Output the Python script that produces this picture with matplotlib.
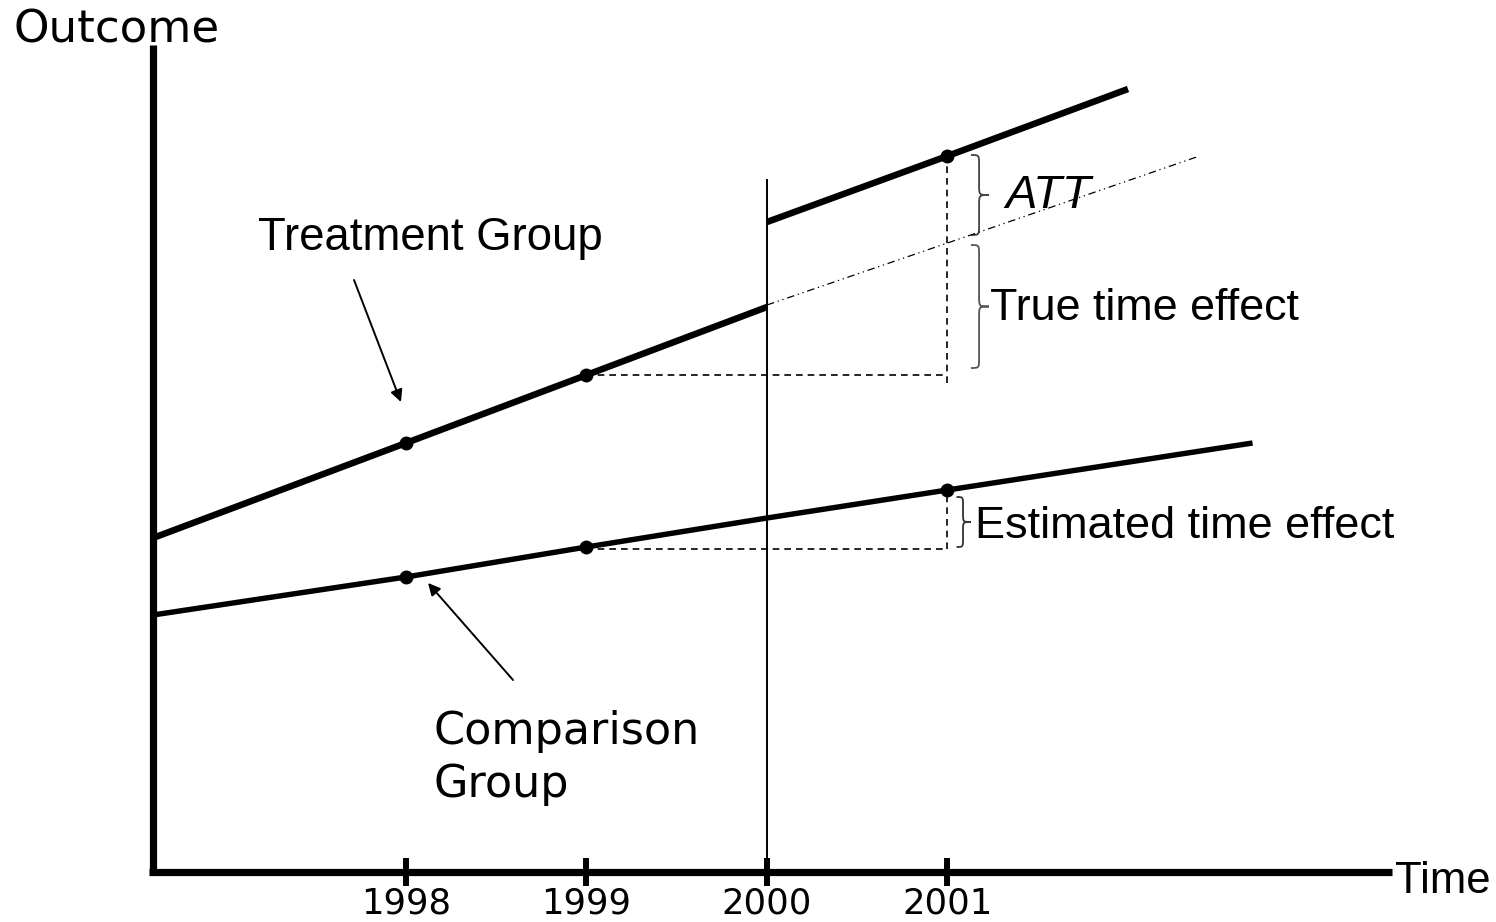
import matplotlib
matplotlib.use("Agg")
import matplotlib.pyplot as plt
from matplotlib.path import Path
from matplotlib.patches import PathPatch

# ---------------- data ----------------
years_ticks = [1998, 1999, 2000, 2001]
tick_labels = ["1998", "1999", "2000", "2001"]

axis_start = 1996.598          # where the y-axis sits (time)
treat_pre_x = [axis_start, 1998, 1999, 2000]
treat_pre_y = [33.4, 42.9, 49.7, 56.5]
treat_post_x = [2000, 2001, 2002]
treat_post_y = [65.0, 71.6, 78.3]
counterfactual_x = [2000, 2001, 2002.38]
counterfactual_y = [56.7, 62.9, 71.5]
comp_x = [axis_start, 1998, 1999, 2000, 2001, 2002.69]
comp_y = [25.7, 29.5, 32.5, 35.4, 38.2, 42.9]

treat_dot_x = [1998, 1999, 2001]
treat_dot_y = [42.9, 49.7, 71.6]
comp_dot_x = [1998, 1999, 2001]
comp_dot_y = [29.5, 32.5, 38.2]

# ---------------- figure ----------------
fig = plt.figure(figsize=(14.96, 9.22), dpi=100)
ax = fig.add_axes([0, 0, 1, 1])
ax.set_xlim(1995.7507, 2004.0388)
ax.set_ylim(-5.0, 87.2)
ax.patch.set_alpha(0)

# axes as spines
for s in ["top", "right"]:
    ax.spines[s].set_visible(False)
ax.spines["left"].set_position(("data", axis_start))
ax.spines["bottom"].set_position(("data", 0))
ax.spines["left"].set_linewidth(5.2)
ax.spines["bottom"].set_linewidth(5.2)
ax.spines["left"].set_bounds(-0.2, 82.7)
ax.spines["bottom"].set_bounds(axis_start - 0.02, 2003.46)
ax.spines["left"].set_capstyle("butt")
ax.spines["bottom"].set_capstyle("butt")
ax.set_yticks([])
ax.set_xticks(years_ticks)
ax.set_xticklabels(tick_labels, fontsize=25.5, family="DejaVu Sans")
ax.tick_params(axis="x", direction="inout", length=20, width=4.3, pad=0.5)

# vertical line at 2000
ax.plot([2000, 2000], [0, 69.2], color="black", lw=1.4)

# treatment group
ax.plot(treat_pre_x, treat_pre_y, color="black", lw=4.7, solid_capstyle="butt")
ax.plot(treat_post_x, treat_post_y, color="black", lw=4.7, solid_capstyle="butt")
ax.plot(counterfactual_x, counterfactual_y, color="black", lw=0.9,
        dashes=(6, 3, 1, 3, 1, 3))
ax.plot(treat_dot_x, treat_dot_y, "o", color="black", ms=9)

# comparison group
ax.plot(comp_x, comp_y, color="black", lw=3.9, solid_capstyle="butt")
ax.plot(comp_dot_x, comp_dot_y, "o", color="black", ms=9)

# dashed guides
ax.plot([1999, 2001], [treat_pre_y[2], treat_pre_y[2]], color="black", lw=1.2, dashes=(4, 3))
ax.plot([2001, 2001], [48.9, treat_post_y[1]], color="black", lw=1.2, dashes=(4, 3))
ax.plot([1999, 2001], [32.3, 32.3], color="black", lw=1.2, dashes=(4, 3))
ax.plot([2001, 2001], [32.3, comp_y[4]], color="black", lw=1.2, dashes=(4, 3))


def brace(x0, w, y0, y1, color, lw=1.3):
    xm = x0 + w * 0.45
    xr = x0 + w
    ym = (y0 + y1) / 2
    r = min(1.0, (y1 - y0) / 6)
    verts = [(x0, y1), (xm, y1), (xm, y1), (xm, y1 - r),
             (xm, ym + r),
             (xm, ym), (xm, ym), (xr, ym),
             (xm, ym), (xm, ym), (xm, ym - r),
             (xm, y0 + r),
             (xm, y0), (xm, y0), (x0, y0)]
    codes = [Path.MOVETO, Path.CURVE4, Path.CURVE4, Path.CURVE4,
             Path.LINETO,
             Path.CURVE4, Path.CURVE4, Path.CURVE4,
             Path.CURVE4, Path.CURVE4, Path.CURVE4,
             Path.LINETO,
             Path.CURVE4, Path.CURVE4, Path.CURVE4]
    ax.add_patch(PathPatch(Path(verts, codes), fill=False, edgecolor=color, lw=lw))


brace(2001.13, 0.10, 63.7, 71.7, "#444444")
brace(2001.13, 0.10, 50.4, 62.7, "#555555")
brace(2001.05, 0.08, 32.5, 37.5, "#333333")

# texts
ax.text(1995.828, 84.2, "Outcome", fontsize=32.5, family="DejaVu Sans", va="center", ha="left")
ax.text(2003.48, -0.9, "Time", fontsize=31.5, family="Liberation Sans", va="center", ha="left")
ax.text(1997.18, 63.4, "Treatment Group", fontsize=32.8, family="Liberation Sans", va="center", ha="left")
ax.text(2001.319, 67.6, "ATT", fontsize=34, family="Liberation Sans", style="italic", va="center", ha="left")
ax.text(2001.236, 56.4, "True time effect", fontsize=32.3, family="Liberation Sans", va="center", ha="left")
ax.text(2001.153, 34.6, "Estimated time effect", fontsize=32.4, family="Liberation Sans", va="center", ha="left")
ax.text(1998.15, 11.4, "Comparison\nGroup", fontsize=32, family="DejaVu Sans", va="center", ha="left",
        linespacing=1.3)

# arrows
ax.annotate("", xy=(1997.972, 47.0), xytext=(1997.712, 59.2),
            arrowprops=dict(arrowstyle="-|>", color="black", lw=1.4, mutation_scale=18,
                            shrinkA=0, shrinkB=0))
ax.annotate("", xy=(1998.122, 28.9), xytext=(1998.593, 19.2),
            arrowprops=dict(arrowstyle="-|>", color="black", lw=1.4, mutation_scale=18,
                            shrinkA=0, shrinkB=0))

fig.savefig("out.png", dpi=100)
